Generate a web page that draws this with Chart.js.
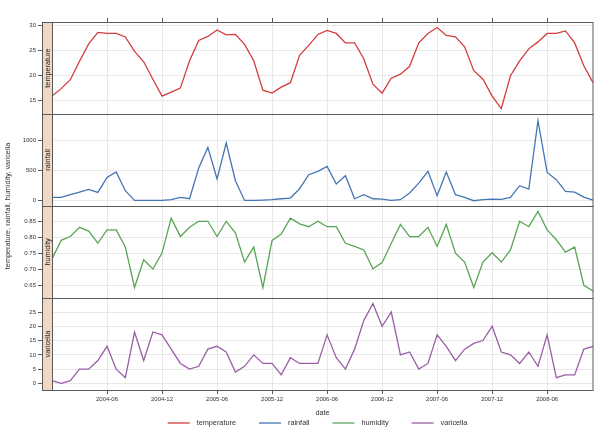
<!DOCTYPE html>
<html>
<head>
<meta charset="utf-8">
<script src="https://cdn.jsdelivr.net/npm/chart.js@4.4.1/dist/chart.umd.min.js"></script>
<style>
  html, body { margin: 0; padding: 0; background: #fff; }
</style>
</head>
<body>
<canvas id="chart" width="600" height="435"></canvas>
<script>
// monthly values, 2003-12 .. 2008-11
var temperature = [15.8, 17.3, 19.1, 22.8, 26.3, 28.6, 28.4, 28.4, 27.7, 24.8, 22.7, 19.2,
                   15.8, 16.6, 17.4, 22.9, 27.0, 27.8, 29.1, 28.1, 28.2, 26.2, 22.9, 17.0,
                   16.4, 17.6, 18.5, 24.0, 26.0, 28.2, 29.0, 28.4, 26.5, 26.5, 23.3, 18.2,
                   16.4, 19.4, 20.2, 21.8, 26.5, 28.4, 29.6, 28.0, 27.7, 25.7, 20.9, 19.2,
                   15.8, 13.3, 19.9, 22.9, 25.3, 26.7, 28.4, 28.4, 28.9, 26.5, 21.9, 18.5];
var rainfall = [56, 56, 100, 144, 189, 139, 389, 478, 167, 6, 5, 5,
                5, 17, 56, 33, 544, 889, 361, 961, 333, 5, 5, 11,
                17, 33, 44, 200, 433, 489, 572, 278, 417, 33, 100, 33,
                28, 6, 17, 128, 294, 489, 83, 478, 100, 56, 0, 17,
                28, 22, 56, 250, 194, 1333, 472, 350, 156, 144, 61, 11];
var humidity = [0.733, 0.791, 0.803, 0.832, 0.820, 0.782, 0.824, 0.824, 0.770, 0.643, 0.730, 0.701,
                0.751, 0.861, 0.803, 0.832, 0.851, 0.851, 0.803, 0.851, 0.815, 0.723, 0.770, 0.643,
                0.791, 0.811, 0.861, 0.843, 0.834, 0.851, 0.834, 0.834, 0.782, 0.772, 0.761, 0.702,
                0.721, 0.782, 0.841, 0.803, 0.803, 0.832, 0.772, 0.841, 0.751, 0.723, 0.643, 0.723,
                0.752, 0.723, 0.761, 0.851, 0.834, 0.882, 0.824, 0.793, 0.754, 0.770, 0.650, 0.632];
var varicella = [1, 0, 1, 5, 5, 8, 13, 5, 2, 18, 8, 18,
                 17, 12, 7, 5, 6, 12, 13, 11, 4, 6, 10, 7,
                 7, 3, 9, 7, 7, 7, 17, 9, 5, 12, 22, 28,
                 20, 25, 10, 11, 5, 7, 17, 13, 8, 12, 14, 15,
                 20, 11, 10, 7, 11, 6, 17, 2, 3, 3, 12, 13];

var xTickLabels = ['2004-06', '2004-12', '2005-06', '2005-12', '2006-06',
                   '2006-12', '2007-06', '2007-12', '2008-06'];
var tempTicks = [15, 20, 25, 30];
var rainTicks = [0, 500, 1000];
var humTicks = [0.65, 0.70, 0.75, 0.80, 0.85];
var varTicks = [0, 5, 10, 15, 20, 25];

var seriesNames = ['temperature', 'rainfall', 'humidity', 'varicella'];
var seriesColors = ['#d43c3c', '#4575b4', '#5aa555', '#9a5ea6'];

// month labels for the category axis
var months = [];
for (var i = 0; i < temperature.length; i++) {
    var d = new Date(2003, 11 + i, 1);
    months.push(d.getFullYear() + '-' + ('0' + (d.getMonth() + 1)).slice(-2));
}

var FONT = '"Liberation Sans", Arial, sans-serif';
var textColor = '#333';
var frameColor = '#5a5a5a';
var gridColor = '#e8e8e8';
var stripColor = '#f0d8c4';

Chart.defaults.font.family = FONT;

// one y axis per panel, stacked on top of each other
function panelAxis(ticks, min, max, weight, fmt) {
    return {
        type: 'linear',
        position: 'left',
        stack: 'panels',
        stackWeight: 1,
        weight: weight,
        min: min,
        max: max,
        border: { display: false },
        grid: { color: gridColor, tickColor: frameColor, tickLength: 14 },
        ticks: { font: { size: 6 }, color: textColor, padding: 2, autoSkip: false, callback: fmt },
        afterBuildTicks: function(scale) {
            scale.ticks = ticks.map(function(v) { return { value: v }; });
        },
        afterFit: function(scale) { scale.width = 52; }
    };
}

var plain = function(v) { return String(v); };
var twoDec = function(v) { return v.toFixed(2); };

// strips, panel boxes, y title and legend
var latticeFrame = {
    id: 'latticeFrame',
    afterDraw: function(chart) {
        var ctx = chart.ctx;
        var area = chart.chartArea;
        var ids = ['yTemp', 'yRain', 'yHum', 'yVar'];
        var stripLeft = area.left - 10;
        ctx.save();
        ids.forEach(function(id, k) {
            var s = chart.scales[id];
            var h = s.bottom - s.top;
            ctx.fillStyle = stripColor;
            ctx.fillRect(stripLeft, s.top, 10, h);
            ctx.strokeStyle = frameColor;
            ctx.lineWidth = 1;
            ctx.strokeRect(stripLeft + 0.5, Math.round(s.top) + 0.5, area.right - stripLeft - 0.5, Math.round(h));
            ctx.beginPath();
            ctx.moveTo(area.left + 0.5, s.top);
            ctx.lineTo(area.left + 0.5, s.bottom);
            ctx.stroke();
            // strip label
            ctx.save();
            ctx.translate(stripLeft + 5.5, s.top + h / 2);
            ctx.rotate(-Math.PI / 2);
            ctx.fillStyle = '#222';
            ctx.font = '7.3px ' + FONT;
            ctx.textAlign = 'center';
            ctx.textBaseline = 'middle';
            ctx.fillText(seriesNames[k], 0, 0);
            ctx.restore();
        });

        // shared y title
        ctx.save();
        ctx.translate(8, (area.top + area.bottom) / 2);
        ctx.rotate(-Math.PI / 2);
        ctx.fillStyle = textColor;
        ctx.font = '7.3px ' + FONT;
        ctx.textAlign = 'center';
        ctx.textBaseline = 'middle';
        ctx.fillText(seriesNames.join(', '), 0, 0);
        ctx.restore();

        // legend under the x title
        ctx.font = '7.3px ' + FONT;
        var lineLen = 22, gapText = 7, gapItem = 23;
        var sets = chart.data.datasets;
        var total = 0;
        sets.forEach(function(ds, k) {
            total += lineLen + gapText + ctx.measureText(ds.label).width;
            if (k < sets.length - 1) total += gapItem;
        });
        var x = (stripLeft + area.right) / 2 - total / 2;
        var y = 423;
        sets.forEach(function(ds) {
            ctx.strokeStyle = ds.borderColor;
            ctx.lineWidth = 1.3;
            ctx.beginPath();
            ctx.moveTo(x, y);
            ctx.lineTo(x + lineLen, y);
            ctx.stroke();
            ctx.fillStyle = textColor;
            ctx.textAlign = 'left';
            ctx.textBaseline = 'middle';
            ctx.fillText(ds.label, x + lineLen + gapText, y);
            x += lineLen + gapText + ctx.measureText(ds.label).width + gapItem;
        });
        ctx.restore();
    }
};

var series = [temperature, rainfall, humidity, varicella];
var axisIds = ['yTemp', 'yRain', 'yHum', 'yVar'];

var chart = new Chart(document.getElementById('chart'), {
    type: 'line',
    data: {
        labels: months,
        datasets: series.map(function(values, k) {
            return {
                label: seriesNames[k],
                data: values,
                yAxisID: axisIds[k],
                borderColor: seriesColors[k],
                backgroundColor: seriesColors[k],
                borderWidth: 1.3,
                pointRadius: 0,
                tension: 0,
                fill: false
            };
        })
    },
    options: {
        responsive: false,
        animation: false,
        layout: { padding: { top: 18, right: 7, bottom: 15, left: 0 } },
        plugins: { legend: { display: false }, tooltip: { enabled: false } },
        scales: {
            x: {
                type: 'category',
                position: 'bottom',
                border: { display: false },
                grid: { color: gridColor, tickColor: frameColor, tickLength: 4 },
                ticks: { font: { size: 6 }, color: textColor, padding: 2, autoSkip: false, maxRotation: 0 },
                title: { display: true, text: 'date', color: textColor, font: { size: 7.3 }, padding: { top: 0, bottom: 3 } },
                afterBuildTicks: function(scale) {
                    scale.ticks = xTickLabels.map(function(l) { return { value: months.indexOf(l) }; });
                },
                afterFit: function(scale) { scale.height = 30; }
            },
            xTop: {
                type: 'category',
                position: 'top',
                border: { display: false },
                grid: { color: 'transparent', tickColor: frameColor, tickLength: 4 },
                ticks: { display: false },
                afterBuildTicks: function(scale) {
                    scale.ticks = xTickLabels.map(function(l) { return { value: months.indexOf(l) }; });
                },
                afterFit: function(scale) { scale.height = 4; }
            },
            yTemp: panelAxis(tempTicks, 12.2, 30.7, 4, plain),
            yRain: panelAxis(rainTicks, -88, 1445, 3, plain),
            yHum: panelAxis(humTicks, 0.61, 0.899, 2, twoDec),
            yVar: panelAxis(varTicks, -2.3, 29.9, 1, plain)
        }
    },
    plugins: [latticeFrame]
});
</script>
</body>
</html>
